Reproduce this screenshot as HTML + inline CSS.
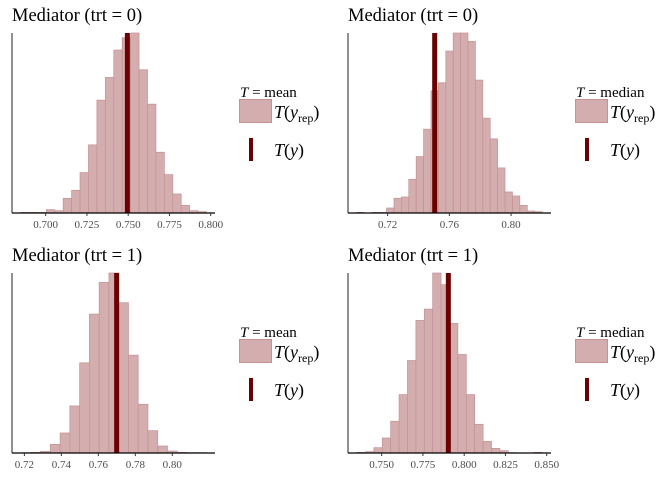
<!DOCTYPE html>
<html><head><meta charset="utf-8"><style>
body{margin:0;background:#fff;}
svg{display:block;font-family:"Liberation Serif",serif;}
</style></head><body>
<svg id="chart" width="672" height="480" viewBox="0 0 672 480"></svg>
<script>
// Panel data (counts per histogram bin, start value, bin width, observed stat)
const p1Counts = [2,2,2,10,7,44,68,121,204,338,406,488,525,539,429,326,182,115,57,23,7,4];
const p2Counts = [2,0,2,2,15,44,48,101,169,251,366,390,485,539,539,514,398,284,222,135,63,51,23,6,4];
const p3Counts = [1,2,5,26,60,141,270,416,511,539,450,293,146,67,21,6,2,1,1];
const p4Counts = [2,4,16,45,95,175,277,397,431,539,504,388,295,175,86,35,14,7,1,0,0,2];
const binStarts = [0.68505, 0.7001, 0.7182, 0.7351];
const binWidths = [0.00511, 0.0048, 0.00528, 0.00509];
const observed = [0.7495, 0.7505, 0.7699, 0.7904];
const domains = [[0.6796,0.8026],[0.6943,0.8259],[0.7133,0.8231],[0.7296,0.8526]];
const ticks1 = [0.700,0.725,0.750,0.775,0.800];
const ticks2 = [0.72,0.76,0.80];
const ticks3 = [0.72,0.74,0.76,0.78,0.80];
const ticks4 = [0.750,0.775,0.800,0.825,0.850];
const tickLabels1 = ["0.700","0.725","0.750","0.775","0.800"];
const tickLabels2 = ["0.72","0.76","0.80"];
const tickLabels3 = ["0.72","0.74","0.76","0.78","0.80"];
const tickLabels4 = ["0.750","0.775","0.800","0.825","0.850"];
const titles = ["Mediator (trt = 0)","Mediator (trt = 0)","Mediator (trt = 1)","Mediator (trt = 1)"];
const statNames = ["mean","median","mean","median"];

const NS="http://www.w3.org/2000/svg";
const svg=document.getElementById('chart');
function mk(tag,attrs,parent){const e=document.createElementNS(NS,tag);for(const k in attrs)e.setAttribute(k,attrs[k]);(parent||svg).appendChild(e);return e;}

const allCounts=[p1Counts,p2Counts,p3Counts,p4Counts];
const allTicks=[ticks1,ticks2,ticks3,ticks4];
const allLabels=[tickLabels1,tickLabels2,tickLabels3,tickLabels4];
const offs=[[0,0],[336,0],[0,240],[336,240]];

for(let i=0;i<4;i++){
  const ox=offs[i][0], oy=offs[i][1];
  const g=mk('g',{transform:`translate(${ox},${oy})`});
  
  
  const L=12,R=215,T=33,B=213;
  const [d0,d1]=domains[i];
  const xs=v=>L+(v-d0)/(d1-d0)*(R-L);
  const counts=allCounts[i];
  const maxC=Math.max(...counts);
  const ys=c=>B-c/maxC*(B-T);
  const title=mk('text',{x:12,y:21,'font-size':'18.5',fill:'#000'},g);
  title.textContent=titles[i];
  
  
  counts.forEach((c,j)=>{
    if(c<=0)return;
    const x0=xs(binStarts[i]+j*binWidths[i]), x1=xs(binStarts[i]+(j+1)*binWidths[i]);
    const r=mk('rect',{x:x0,y:ys(c),width:x1-x0,height:B-ys(c),fill:'#d4adaf',stroke:'#c39396','stroke-width':0.7},g);
    
    
  });
  const ln=mk('rect',{x:xs(observed[i])-2.5,y:T,width:5,height:B-T,fill:'#6b0000'},g);
  
  
  const ya=mk('line',{x1:L,y1:T,x2:L,y2:B,stroke:'#555','stroke-width':1.3},g);
  
  
  const xa=mk('line',{x1:L,y1:B,x2:R,y2:B,stroke:'#000','stroke-width':1.2},g);
  
  
  allTicks[i].forEach((t,j)=>{
    const tm=mk('line',{x1:xs(t),y1:B,x2:xs(t),y2:B+3,stroke:'#333','stroke-width':1},g);
    
    
    const tl=mk('text',{x:xs(t),y:B+15,'font-size':'11','text-anchor':'middle',fill:'#4d4d4d'},g);
    tl.textContent=allLabels[i][j];
    
    
  });
  const lg=mk('g',{},g);
  
  
  const lt=mk('text',{x:240,y:97,'font-size':'15',fill:'#000'},lg);
  lt.innerHTML='<tspan font-style="italic">T</tspan> = '+statNames[i];
  
  
  const box=mk('rect',{x:239.5,y:99.5,width:32,height:23,fill:'#d4adaf',stroke:'#c39396','stroke-width':1},lg);
  
  
  const t1=mk('text',{x:274,y:118,'font-size':'18',fill:'#000'},lg);
  t1.innerHTML='<tspan font-style="italic">T</tspan>(<tspan font-style="italic">y</tspan><tspan font-size="12" dy="4">rep</tspan><tspan dy="-4">)</tspan>';
  
  
  const lk=mk('rect',{x:249,y:138,width:4,height:23,fill:'#6b0000'},lg);
  
  
  const t2=mk('text',{x:274,y:156,'font-size':'18',fill:'#000'},lg);
  t2.innerHTML='<tspan font-style="italic">T</tspan>(<tspan font-style="italic">y</tspan>)';
  
  
}
</script>
</body></html>
